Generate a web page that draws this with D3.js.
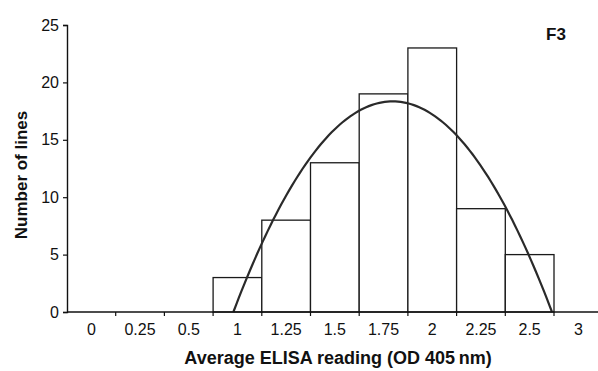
<!DOCTYPE html>
<html>
<head>
<meta charset="utf-8">
<script src="https://cdn.jsdelivr.net/npm/d3@7"></script>
<style>
  body { margin: 0; background: #fff; }
  text { font-family: Arial, "Liberation Sans", Helvetica, sans-serif; fill: #111; }
</style>
</head>
<body>
<div id="chart"></div>
<script>
// histogram bins (OD 405 nm) and number of lines in each
const categories = ["0", "0.25", "0.5", "1", "1.25", "1.5", "1.75", "2", "2.25", "2.5", "3"];
const counts = [0, 0, 0, 3, 8, 13, 19, 23, 9, 5, 0];
const yTicks = [0, 5, 10, 15, 20, 25];
const panelLabel = "F3";
const xTitle = "Average ELISA reading (OD 405\u2009nm)";
const yTitle = "Number of lines";

const width = 598;
const height = 371;
const margin = { left: 67, top: 25, bottom: 59 };
const bandW = 48.7;

const svg = d3
  .select("#chart")
  .append("svg")
  .attr("width", width)
  .attr("height", height);

// band scale for the bins, linear scale on the bin index for edges / trendline
const x = d3
  .scaleBand()
  .domain(categories)
  .range([margin.left, margin.left + bandW * categories.length])
  .paddingInner(0)
  .paddingOuter(0);
const xi = d3
  .scaleLinear()
  .domain([0, categories.length])
  .range(x.range());
const y = d3
  .scaleLinear()
  .domain([0, 25])
  .range([height - margin.bottom, margin.top]);

// bars
svg
  .append("g")
  .attr("class", "bars")
  .selectAll("rect")
  .data(categories.map((c, i) => ({ c, v: counts[i] })).filter((d) => d.v > 0))
  .join("rect")
  .attr("x", (d) => x(d.c))
  .attr("y", (d) => y(d.v))
  .attr("width", x.bandwidth())
  .attr("height", (d) => y(0) - y(d.v))
  .attr("fill", "#fff")
  .attr("stroke", "#1a1a1a")
  .attr("stroke-width", 1.3);

// 2nd order polynomial trendline, least squares over the non-empty bins
function polyFit2(pts) {
  const s = [0, 0, 0, 0, 0];
  const t = [0, 0, 0];
  pts.forEach(([u, v]) => {
    for (let k = 0; k < 5; k++) s[k] += Math.pow(u, k);
    for (let k = 0; k < 3; k++) t[k] += v * Math.pow(u, k);
  });
  const m = [
    [s[0], s[1], s[2], t[0]],
    [s[1], s[2], s[3], t[1]],
    [s[2], s[3], s[4], t[2]],
  ];
  for (let i = 0; i < 3; i++) {
    for (let j = i + 1; j < 3; j++) {
      const f = m[j][i] / m[i][i];
      for (let k = i; k < 4; k++) m[j][k] -= f * m[i][k];
    }
  }
  const c = [0, 0, 0];
  for (let i = 2; i >= 0; i--) {
    let acc = m[i][3];
    for (let k = i + 1; k < 3; k++) acc -= m[i][k] * c[k];
    c[i] = acc / m[i][i];
  }
  return c; // c0 + c1 u + c2 u^2
}

const fitPts = counts.map((v, i) => [i, v]).filter((p) => p[1] > 0);
const [c0, c1, c2] = polyFit2(fitPts);
const disc = Math.sqrt(c1 * c1 - 4 * c2 * c0);
const r1 = (-c1 + disc) / (2 * c2);
const r2 = (-c1 - disc) / (2 * c2);
const uMin = Math.min(r1, r2);
const uMax = Math.max(r1, r2);
const curveU = d3.range(0, 121).map((k) => uMin + ((uMax - uMin) * k) / 120);

svg
  .append("path")
  .attr("class", "trend")
  .datum(curveU)
  .attr("fill", "none")
  .attr("stroke", "#2a2a2a")
  .attr("stroke-width", 2.2)
  .attr(
    "d",
    d3
      .line()
      .x((u) => xi(u + 0.5))
      .y((u) => y(Math.max(0, c0 + c1 * u + c2 * u * u)))
  );

// y axis
const yAxis = svg
  .append("g")
  .attr("class", "y axis")
  .attr("transform", "translate(" + margin.left + ",0)")
  .call(d3.axisLeft(y).tickValues(yTicks).tickSize(4).tickPadding(4));
yAxis.select(".domain").attr("stroke", "#111").attr("stroke-width", 1.4);
yAxis.selectAll(".tick line").attr("stroke", "#111").attr("stroke-width", 1.2);
yAxis.selectAll(".tick text").style("font-size", "16px").attr("fill", "#111");

// x axis: line, ticks at bin edges, labels centred in the bins
const xAxis = svg.append("g").attr("class", "x axis");
xAxis
  .append("line")
  .attr("x1", margin.left)
  .attr("x2", width)
  .attr("y1", y(0))
  .attr("y2", y(0))
  .attr("stroke", "#111")
  .attr("stroke-width", 1.4);
xAxis
  .selectAll(".edge")
  .data(d3.range(1, categories.length + 1))
  .join("line")
  .attr("class", "edge")
  .attr("x1", (i) => xi(i))
  .attr("x2", (i) => xi(i))
  .attr("y1", y(0))
  .attr("y2", y(0) + 4)
  .attr("stroke", "#111")
  .attr("stroke-width", 1.2);
xAxis
  .selectAll(".lbl")
  .data(categories)
  .join("text")
  .attr("class", "lbl")
  .attr("x", (d) => x(d) + x.bandwidth() / 2)
  .attr("y", y(0) + 23)
  .attr("text-anchor", "middle")
  .style("font-size", "16px")
  .text((d) => d);

// titles
svg
  .append("text")
  .attr("x", 338)
  .attr("y", 364)
  .attr("text-anchor", "middle")
  .style("font-size", "18px")
  .style("font-weight", "bold")
  .text(xTitle);

svg
  .append("text")
  .attr("transform", "translate(27," + 175 + ") rotate(-90)")
  .attr("text-anchor", "middle")
  .style("font-size", "17px")
  .style("font-weight", "bold")
  .text(yTitle);

svg
  .append("text")
  .attr("x", 556)
  .attr("y", 40)
  .attr("text-anchor", "middle")
  .style("font-size", "17px")
  .style("font-weight", "bold")
  .text(panelLabel);
</script>
</body>
</html>
